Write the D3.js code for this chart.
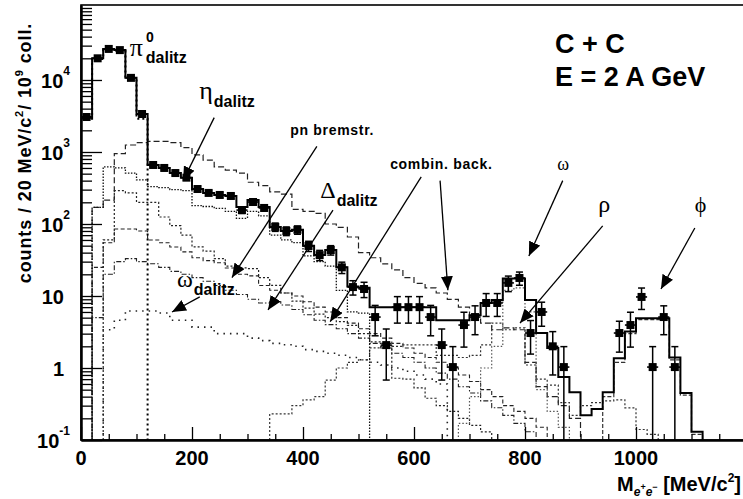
<!DOCTYPE html>
<html>
<head>
<meta charset="utf-8">
<script src="https://cdn.jsdelivr.net/npm/d3@7/dist/d3.min.js"></script>
<style>
  html, body { margin: 0; padding: 0; background: #fff; }
  svg text { font-family: "Liberation Sans", Arial, Helvetica, sans-serif; font-weight: bold; fill: #000; }
</style>
</head>
<body>
<svg id="chart" width="743" height="499"></svg>
<script>
// e+e- invariant mass spectrum, C + C at 2 AGeV.
// Every histogram uses 20 MeV/c² bins; entry i covers [20 i, 20 i + 20) MeV/c².
const BIN_WIDTH = 20;

// Sum of the simulated sources (solid histogram)
const totalCocktail = [3060, 20000, 27000, 26000, 10700, 3370, 660, 600, 510, 440,
  306, 270, 253, 245, 172, 215, 172, 91, 80, 83,
  50, 37, 43.5, 25, 13.5, 13, 7, 7, 7, 7,
  7, 7, 4.6, 4.6, 4.6, 5.4, 8, 8.8, 17.5, 17.5,
  8.8, 3.06, 1.9, 0.75, 0.46, 0.22, 0.27, 0.46, 1.37, 3.2,
  4.9, 4.9, 4.9, 1.4, 0.45, 0.13, 0, 0, 0, 0];

// Individual sources (bins beyond the end of an array are empty)
const pi0Dalitz = [2900, 19500, 26500, 25500, 10500, 2900];
const etaDalitz = [0, 170, 620, 600, 510, 410, 330, 320, 300, 290,
  180, 175, 165, 150, 120, 150, 130, 70, 60, 55,
  36, 30, 26, 12, 6, 5.8];
const pnBremsstrahlung = [0, 25, 55, 85, 85, 80, 60, 55, 48, 41,
  34, 31, 29, 24.5, 20, 19, 14, 12, 11, 10,
  8.3, 7, 6, 5, 4.2, 3.5, 3, 2.6, 2.2, 1.9,
  1.6, 1.4, 1.2, 1.0, 0.8, 0.65, 0.5, 0.4, 0.3, 0.25,
  0.2, 0.15];
const deltaDalitz = [0, 5, 20, 30, 33, 30, 28, 25, 22, 20,
  18, 16, 14, 12, 10.5, 9, 8, 8.3, 7.5, 6.5,
  5.5, 4.6, 4.0, 3.5, 3.0, 2.6, 2.2, 1.9, 1.6, 1.4,
  1.2, 1.0, 0.85, 0.7, 0.55, 0.45, 0.35, 0.28, 0.22, 0.17,
  0.13];
const omegaDalitz = [0, 0, 3.4, 4.6, 6.2, 6.2, 6.2, 5.8, 4.6, 4.6,
  3.7, 3.7, 3.0, 3.0, 3.0, 2.6, 2.4, 2.2, 2.1, 2.0,
  1.8, 1.7, 1.6, 1.5, 1.4, 1.3, 1.2, 1.1, 1.0, 0.9,
  0.8, 0.7, 0.6];
const rhoDirect = [0, 0, 0, 0, 0, 0, 0, 0, 0, 0,
  0, 0, 0, 0, 0, 0, 0, 0.23, 0.23, 0.3,
  0.36, 0.4, 0.68, 1.0, 1.2, 1.3, 1.9, 2.0, 2.0, 2.1,
  2.1, 2.1, 1.5, 1.5, 1.4, 1.5, 2.1, 4.2, 3.4, 3.6,
  1.1, 0.7, 0.58, 0.33, 0.22, 0.3, 0.33, 0.35, 0.36, 0.28,
  0.14, 0.12];
const omegaDirect = [0, 0, 0, 0, 0, 0, 0, 0, 0, 0,
  0, 0, 0, 0, 0, 0, 0, 0, 0, 0,
  0, 0, 0, 0, 0, 0, 0, 0, 0, 0,
  0, 0, 0, 0, 0.17, 0.4, 1.0, 2.0, 12, 13,
  6, 0.5, 0.25, 0.15];
const phiDirect = [0, 0, 0, 0, 0, 0, 0, 0, 0, 0,
  0, 0, 0, 0, 0, 0, 0, 0, 0, 0,
  0, 0, 0, 0, 0, 0, 0, 0, 0, 0,
  0, 0, 0, 0, 0, 0, 0, 0, 0, 0,
  0, 0, 0, 0, 0, 0, 0, 0.4, 1.2, 3.0,
  4.7, 4.7, 4.7, 1.3, 0.42, 0.12];
const combBackgroundAll = [0, 170, 215, 950, 1250, 1350, 1400, 1400, 1350, 1150,
  910, 770, 620, 560, 510, 380, 340, 280, 260, 160,
  150, 140, 100, 90, 66, 40, 34, 28, 23, 18,
  15, 13, 11, 9, 7, 5.4, 4.2, 3.4, 3.6, 3.4,
  1.2, 0.55, 0.4, 0.3, 0.2];
const combBackgroundLow = [0, 0, 60, 290, 270, 200, 200, 125, 95, 70,
  48, 42, 33, 26, 24.5, 24, 18, 14, 11, 8.5,
  6.8, 5.6, 5.0, 4.4, 3.9, 3.0, 2.3, 2.2, 0.72, 0.7,
  0.53, 0.38, 0.3, 0.25, 0.2, 0.16, 0.13];

// Simulated measurement: bin centre, counts, statistical error
const dataMass = [10, 30, 50, 70, 90, 110, 130, 150, 170, 190,
  210, 230, 250, 270, 290, 310, 330, 350, 370, 390,
  410, 430, 450, 470, 490, 510, 530, 550, 570, 590,
  610, 630, 650, 670, 690, 710, 730, 750, 770, 790,
  810, 830, 850, 870, 970, 990, 1010, 1030, 1050, 1070];
const dataCounts = [3060, 20000, 27000, 26000, 10700, 3370, 660, 600, 510, 440,
  306, 270, 253, 245, 156, 202, 167, 91, 80, 83,
  49.5, 37, 43.5, 25, 13.3, 12.5, 5.1, 2.08, 7.0, 7.0,
  7.0, 5.1, 2.08, 1.03, 3.95, 5.1, 8.0, 8.0, 15.2, 17.8,
  3.06, 6.0, 2.0, 1.03, 3.06, 3.95, 9.7, 1.03, 5.1, 1.03];
const dataError = [80, 300, 350, 350, 220, 120, 35, 33, 30, 28,
  22, 20, 20, 19, 16, 18, 16, 12, 11, 11,
  8, 6, 6.5, 4.5, 3, 3, 2.3, 1.4, 2.8, 2.8,
  2.8, 2.3, 1.4, 0.95, 2.0, 2.2, 2.8, 2.8, 3.7, 3.7,
  1.5, 2.2, 1.2, 0.95, 1.4, 2.0, 3.2, 0.95, 2.2, 0.95];

// Axis ticks and labels
const xMajorTicks = [0, 200, 400, 600, 800, 1000];
const xTickLabels = ["0", "200", "400", "600", "800", "1000"];
const yMajorTicks = [0.1, 1, 10, 100, 1000, 10000];
const yTickBase = ["10", "1", "10", "10", "10", "10"];
const yTickExponent = ["-1", "", "", "2", "3", "4"];

// Source labels: anchor at [mass, counts]
const labelText = ["\u03c0", "\u03b7", "pn bremstr.", "combin. back.", "\u0394", "\u03c9", "\u03c9", "\u03c1", "\u03d5"];
const labelMass = [88, 213, 377, 557, 431, 173, 858, 932, 1106];
const labelCounts = [21500, 5400, 1720, 580, 230, 13.3, 560, 147, 147];

// Arrows from the labels: tail [mass, counts] -> head [mass, counts]
const arrowTailMass = [240, 425, 454, 613, 647, 214, 868, 940, 1106];
const arrowTailCounts = [3000, 1200, 156, 450, 400, 9.7, 400, 94, 88];
const arrowHeadMass = [184, 272, 337, 449, 661, 164, 807, 791, 1045];
const arrowHeadCounts = [400, 18, 6.4, 4.4, 12, 6, 36, 4.2, 12.5];

// ---------------------------------------------------------------
const svg = d3.select("#chart");
const plotLeft = 81, plotTop = 5, plotBottom = 440, plotRight = 747;

const x = d3.scaleLinear().domain([0, 1200]).range([plotLeft, plotRight]);
const y = d3.scaleLog().domain([0.1, 1.1e5]).range([plotBottom, plotTop]);

const defs = svg.append("defs");
defs.append("clipPath").attr("id", "plotArea")
  .append("rect").attr("x", plotLeft).attr("y", plotTop)
  .attr("width", plotRight - plotLeft).attr("height", plotBottom - plotTop);

defs.append("marker")
  .attr("id", "head").attr("viewBox", "0 0 14 12")
  .attr("refX", 14).attr("refY", 6)
  .attr("markerWidth", 14).attr("markerHeight", 12)
  .attr("markerUnits", "userSpaceOnUse").attr("orient", "auto")
  .append("path").attr("d", "M0,0 L14,6 L0,12 Z").attr("fill", "#000");

const plot = svg.append("g").attr("clip-path", "url(#plotArea)");

// Step outline of a histogram; empty bins fall below the axis
const FLOOR = 1e-3;
function stepPoints(values) {
  const first = values.findIndex(v => v > 0);
  let last = values.length - 1;
  while (last >= 0 && !(values[last] > 0)) last--;
  const pts = [[first * BIN_WIDTH, FLOOR]];
  for (let i = first; i <= last; i++) {
    const v = values[i] > 0 ? values[i] : FLOOR;
    pts.push([i * BIN_WIDTH, v], [(i + 1) * BIN_WIDTH, v]);
  }
  pts.push([(last + 1) * BIN_WIDTH, FLOOR]);
  return pts;
}
const stepLine = d3.line().x(d => x(d[0])).y(d => y(d[1]));

const sources = [
  { values: combBackgroundAll, dash: "6,3", width: 1.2, color: "#222" },
  { values: combBackgroundLow, dash: "2,2", width: 1.2, color: "#222" },
  { values: pnBremsstrahlung, dash: "4,2.5", width: 1.1, color: "#222" },
  { values: deltaDalitz, dash: "5,2,1.5,2", width: 1.1, color: "#222" },
  { values: omegaDalitz, dash: "1.5,5", width: 1.6, color: "#222" },
  { values: rhoDirect, dash: "2,2", width: 1.2, color: "#333" },
  { values: omegaDirect, dash: "1.5,2", width: 1.2, color: "#555" },
  { values: phiDirect, dash: "4,2", width: 1.2, color: "#333" },
  { values: etaDalitz, dash: "1.5,1.5", width: 1.3, color: "#111" },
  { values: pi0Dalitz, dash: "2,3", width: 2, color: "#000" }
];

plot.selectAll("path.source").data(sources).join("path")
  .attr("class", "source")
  .attr("d", s => stepLine(stepPoints(s.values)))
  .attr("fill", "none")
  .attr("stroke", s => s.color)
  .attr("stroke-width", s => s.width)
  .attr("stroke-dasharray", s => s.dash);

plot.append("path")
  .attr("d", stepLine(stepPoints(totalCocktail)))
  .attr("fill", "none").attr("stroke", "#000").attr("stroke-width", 2);

// Data points with error bars
const points = dataMass.map((m, i) => ({ m, v: dataCounts[i], e: dataError[i] }));
const pg = plot.append("g").selectAll("g").data(points).join("g");
pg.append("line")
  .attr("x1", d => x(d.m)).attr("x2", d => x(d.m))
  .attr("y1", d => y(d.v + d.e)).attr("y2", d => y(Math.max(d.v - d.e, FLOOR)))
  .attr("stroke", "#000").attr("stroke-width", 1.5);
pg.append("line")
  .attr("x1", d => x(d.m) - 3.5).attr("x2", d => x(d.m) + 3.5)
  .attr("y1", d => y(d.v + d.e)).attr("y2", d => y(d.v + d.e))
  .attr("stroke", "#000").attr("stroke-width", 1.5);
pg.filter(d => d.v - d.e > 0.1).append("line")
  .attr("x1", d => x(d.m) - 3.5).attr("x2", d => x(d.m) + 3.5)
  .attr("y1", d => y(d.v - d.e)).attr("y2", d => y(d.v - d.e))
  .attr("stroke", "#000").attr("stroke-width", 1.5);
pg.append("line")
  .attr("x1", d => x(d.m - BIN_WIDTH / 2)).attr("x2", d => x(d.m + BIN_WIDTH / 2))
  .attr("y1", d => y(d.v)).attr("y2", d => y(d.v))
  .attr("stroke", "#000").attr("stroke-width", 1.6);
pg.append("rect")
  .attr("x", d => x(d.m) - 4).attr("y", d => y(d.v) - 4)
  .attr("width", 8).attr("height", 8).attr("fill", "#000");

// Frame
svg.append("rect").attr("x", plotLeft).attr("y", plotTop)
  .attr("width", plotRight - plotLeft).attr("height", plotBottom - plotTop)
  .attr("fill", "none").attr("stroke", "#000").attr("stroke-width", 1.6);

// Axes (ticks pointing into the plot)
const yMinorTicks = [];
d3.range(-1, 5).forEach(d => d3.range(2, 10).forEach(k => yMinorTicks.push(k * Math.pow(10, d))));
yMinorTicks.push(1e5);

const yAxisMajor = svg.append("g").attr("transform", `translate(${plotLeft},0)`)
  .call(d3.axisLeft(y).tickValues(yMajorTicks).tickSizeInner(-21).tickSizeOuter(0).tickFormat(""));
const yAxisMinor = svg.append("g").attr("transform", `translate(${plotLeft},0)`)
  .call(d3.axisLeft(y).tickValues(yMinorTicks).tickSizeInner(-11).tickSizeOuter(0).tickFormat(""));

const xMinorTicks = d3.range(50, 1200, 50).filter(v => v % 200 !== 0);
const xAxisMajor = svg.append("g").attr("transform", `translate(0,${plotBottom})`)
  .call(d3.axisBottom(x).tickValues(xMajorTicks).tickSizeInner(-13).tickSizeOuter(0).tickFormat(""));
const xAxisMinor = svg.append("g").attr("transform", `translate(0,${plotBottom})`)
  .call(d3.axisBottom(x).tickValues(xMinorTicks).tickSizeInner(-6).tickSizeOuter(0).tickFormat(""));

[yAxisMajor, yAxisMinor, xAxisMajor, xAxisMinor].forEach(g => {
  g.selectAll("line").attr("stroke", "#000").attr("stroke-width", 1.3);
  g.select(".domain").attr("stroke", "#000").attr("stroke-width", 2);
});

// Tick labels
xMajorTicks.forEach((v, i) => {
  svg.append("text").attr("x", x(v)).attr("y", 465)
    .attr("text-anchor", "middle").style("font-size", "20px").text(xTickLabels[i]);
});
yMajorTicks.forEach((v, i) => {
  const t = svg.append("text")
    .attr("x", yTickExponent[i] ? 70 : 64).attr("y", y(v) + 8)
    .attr("text-anchor", "end").style("font-size", "20px");
  t.append("tspan").text(yTickBase[i]);
  if (yTickExponent[i]) {
    t.append("tspan").attr("dy", -13).style("font-size", "12px").text(yTickExponent[i]);
  }
});

// Axis titles
const yTitle = svg.append("text")
  .attr("transform", "translate(31,153) rotate(-90)")
  .attr("text-anchor", "middle").style("font-size", "18px").style("letter-spacing", "0.9px");
yTitle.append("tspan").text("counts / 20 MeV/c");
yTitle.append("tspan").attr("dy", -8).style("font-size", "11px").text("2");
yTitle.append("tspan").attr("dy", 8).text("/ 10");
yTitle.append("tspan").attr("dy", -8).style("font-size", "11px").text("9");
yTitle.append("tspan").attr("dy", 8).text(" coll.");

const xTitle = svg.append("text").attr("x", 741).attr("y", 491)
  .attr("text-anchor", "end").style("font-size", "20px");
xTitle.append("tspan").text("M");
xTitle.append("tspan").attr("dy", 5).style("font-size", "12px").style("font-style", "italic").text("e");
xTitle.append("tspan").attr("dy", -6).style("font-size", "9px").text("+");
xTitle.append("tspan").attr("dy", 6).style("font-size", "12px").style("font-style", "italic").text("e");
xTitle.append("tspan").attr("dy", -6).style("font-size", "9px").text("\u2212");
xTitle.append("tspan").attr("dy", 1).text(" [MeV/c");
xTitle.append("tspan").attr("dy", -9).style("font-size", "12px").text("2");
xTitle.append("tspan").attr("dy", 9).text("]");

// System and energy
svg.append("text").attr("x", x(854)).attr("y", y(23700)).style("font-size", "27px").text("C + C");
svg.append("text").attr("x", x(854)).attr("y", y(8260)).style("font-size", "27px").text("E = 2 A GeV");

// Arrows
arrowTailMass.forEach((m, i) => {
  svg.append("line")
    .attr("x1", x(m)).attr("y1", y(arrowTailCounts[i]))
    .attr("x2", x(arrowHeadMass[i])).attr("y2", y(arrowHeadCounts[i]))
    .attr("stroke", "#000").attr("stroke-width", 1.3)
    .attr("marker-end", "url(#head)");
});

// Source labels
function greekLabel(i, size, sub, sup) {
  const g = svg.append("text").attr("x", x(labelMass[i])).attr("y", y(labelCounts[i]));
  g.append("tspan")
    .style("font-family", '"Liberation Serif", "DejaVu Serif", serif')
    .style("font-weight", "normal")
    .style("font-size", size + "px").text(labelText[i]);
  if (sup) g.append("tspan").attr("dx", 3).attr("dy", -14).style("font-size", "14px").text(sup);
  if (sub) g.append("tspan").attr("dx", sup ? -8 : 1).attr("dy", sup ? 21 : 8).style("font-size", "16px").text(sub);
}
greekLabel(0, 26, "dalitz", "0");
greekLabel(1, 26, "dalitz");
greekLabel(4, 24, "dalitz");
greekLabel(5, 24, "dalitz");
greekLabel(6, 18);
greekLabel(7, 24);
greekLabel(8, 22);

svg.append("text").attr("x", x(labelMass[2])).attr("y", y(labelCounts[2]))
  .style("font-size", "14px").style("letter-spacing", "0.7px").text(labelText[2]);
svg.append("text").attr("x", x(labelMass[3])).attr("y", y(labelCounts[3]))
  .style("font-size", "14px").style("letter-spacing", "0.7px").text(labelText[3]);
</script>
</body>
</html>
